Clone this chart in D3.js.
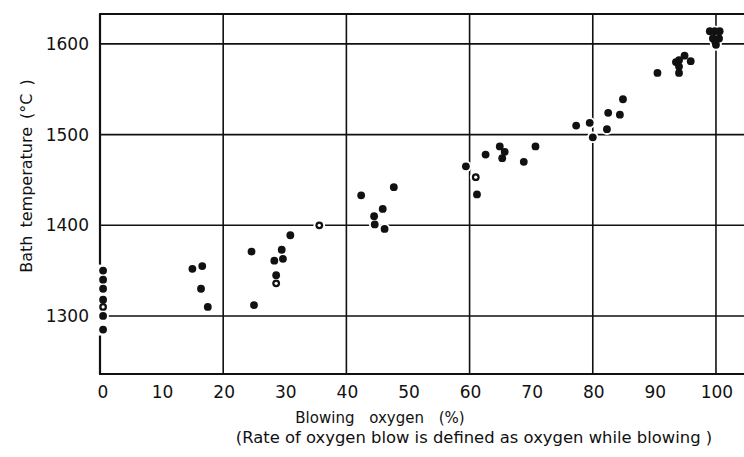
<!DOCTYPE html>
<html lang="en">
<head>
    <meta charset="utf-8" />
    <title>Bath temperature vs blowing oxygen</title>
    <script src="https://cdnjs.cloudflare.com/ajax/libs/d3/7.8.5/d3.min.js"></script>
    <style>
        body { margin: 0; background: #fff; }
        svg text { font-family: "DejaVu Sans", sans-serif; fill: #111; }
    </style>
</head>
<body>
    <div id="vis"></div>
    <script type="text/javascript">
        // ---- data ----
        var filledOxygen = [0.5, 0.5, 0.5, 0.5, 0.5, 0.5,
            15.0, 16.6, 16.4, 17.5,
            24.6, 25.0, 28.3, 29.5, 29.7, 28.6, 30.9,
            42.4, 44.5, 44.6, 45.9, 46.2, 47.7,
            59.4, 61.2, 62.6, 64.9, 65.7, 65.3, 68.8, 70.7,
            77.3, 79.5, 80.0, 82.3, 82.5, 84.4, 84.9,
            90.5, 93.5, 94.0, 94.0, 94.0, 94.9, 95.9,
            99.0, 100.6, 99.8, 99.5, 100.5, 99.9, 100.0];
        var filledTemp = [1350, 1340, 1330, 1318, 1300, 1285,
            1352, 1355, 1330, 1310,
            1371, 1312, 1361, 1373, 1363, 1345, 1389,
            1433, 1410, 1401, 1418, 1396, 1442,
            1465, 1434, 1478, 1487, 1481, 1474, 1470, 1487,
            1510, 1513, 1497, 1506, 1524, 1522, 1539,
            1568, 1580, 1582, 1575, 1568, 1587, 1581,
            1614, 1614, 1614, 1606, 1606, 1602, 1599];
        var openOxygen = [0.5, 28.6, 35.6, 61.0];
        var openTemp = [1310, 1336, 1400, 1453];

        var xTicks = [0, 10, 20, 30, 40, 50, 60, 70, 80, 90, 100];
        var xGrid = [20, 40, 60, 80, 100];
        var yTicks = [1300, 1400, 1500, 1600];

        (function () {
            var width = 744, height = 457;
            var plotLeft = 100, plotRight = 744, plotTop = 14, plotBottom = 374;

            var x = d3.scaleLinear().domain([0, 104.55]).range([plotLeft, plotRight]);
            var y = d3.scaleLinear().domain([1236, 1633]).range([plotBottom, plotTop]);

            var svg = d3.select("#vis").append("svg")
                .attr("width", width)
                .attr("height", height);

            var points = filledOxygen.map(function (d, i) { return { x: d, t: filledTemp[i], open: false }; })
                .concat(openOxygen.map(function (d, i) { return { x: d, t: openTemp[i], open: true }; }));

            // grid lines
            svg.selectAll("line.hgrid").data(yTicks).enter().append("line")
                .attr("class", "hgrid")
                .attr("x1", plotLeft).attr("x2", plotRight)
                .attr("y1", function (d) { return y(d); })
                .attr("y2", function (d) { return y(d); })
                .attr("stroke", "#111").attr("stroke-width", 1.6);

            svg.selectAll("line.vgrid").data(xGrid).enter().append("line")
                .attr("class", "vgrid")
                .attr("x1", function (d) { return x(d); })
                .attr("x2", function (d) { return x(d); })
                .attr("y1", plotTop).attr("y2", plotBottom)
                .attr("stroke", "#111").attr("stroke-width", 1.6);

            // frame: top, bottom, left (left axis broken where the 0 % column sits)
            svg.append("line").attr("x1", plotLeft - 1).attr("x2", plotRight).attr("y1", plotTop).attr("y2", plotTop)
                .attr("stroke", "#111").attr("stroke-width", 2.2);
            svg.append("line").attr("x1", plotLeft - 1).attr("x2", plotRight).attr("y1", plotBottom).attr("y2", plotBottom)
                .attr("stroke", "#111").attr("stroke-width", 2.2);

            var zeroCol = points.filter(function (p) { return p.x < 2; }).map(function (p) { return p.t; });
            var gapTop = y(d3.max(zeroCol)) - 6, gapBottom = y(d3.min(zeroCol)) + 6;
            svg.append("line").attr("x1", plotLeft).attr("x2", plotLeft).attr("y1", plotTop).attr("y2", gapTop)
                .attr("stroke", "#111").attr("stroke-width", 2.2);
            svg.append("line").attr("x1", plotLeft).attr("x2", plotLeft).attr("y1", gapBottom).attr("y2", plotBottom)
                .attr("stroke", "#111").attr("stroke-width", 2.2);

            // white halos first so lines break around the marks
            svg.selectAll("circle.halo").data(points).enter().append("circle")
                .attr("class", "halo")
                .attr("cx", function (d) { return x(d.x); })
                .attr("cy", function (d) { return y(d.t); })
                .attr("r", 5.8)
                .attr("fill", "#fff");

            svg.selectAll("circle.dot").data(points).enter().append("circle")
                .attr("class", "dot")
                .attr("cx", function (d) { return x(d.x); })
                .attr("cy", function (d) { return y(d.t); })
                .attr("r", 3.9)
                .attr("fill", "#111");

            svg.selectAll("circle.hole").data(points.filter(function (p) { return p.open; })).enter().append("circle")
                .attr("class", "hole")
                .attr("cx", function (d) { return x(d.x); })
                .attr("cy", function (d) { return y(d.t); })
                .attr("r", 1.6)
                .attr("fill", "#fff");

            // tick labels
            svg.selectAll("text.xlab").data(xTicks).enter().append("text")
                .attr("class", "xlab")
                .attr("x", function (d) { return x(d) + (d === 0 ? 3 : 1); })
                .attr("y", 398)
                .attr("text-anchor", "middle")
                .style("font-size", "17px")
                .text(function (d) { return d; });

            svg.selectAll("text.ylab").data(yTicks).enter().append("text")
                .attr("class", "ylab")
                .attr("x", 89)
                .attr("y", function (d) { return y(d) + 6; })
                .attr("text-anchor", "end")
                .style("font-size", "17px")
                .text(function (d) { return d; });

            // titles
            svg.append("text")
                .attr("x", 380).attr("y", 423)
                .attr("text-anchor", "middle")
                .style("font-size", "15px")
                .style("word-spacing", "10px")
                .text("Blowing oxygen (%)");

            svg.append("text")
                .attr("x", 474).attr("y", 443)
                .attr("text-anchor", "middle")
                .style("font-size", "16.4px")
                .text("(Rate of oxygen blow is defined as oxygen while blowing )");

            svg.append("text")
                .attr("transform", "translate(32,176) rotate(-90)")
                .attr("text-anchor", "middle")
                .style("font-size", "16px")
                .style("word-spacing", "3px")
                .text("Bath temperature (\u00B0C )");
        })();
    </script>
</body>
</html>
